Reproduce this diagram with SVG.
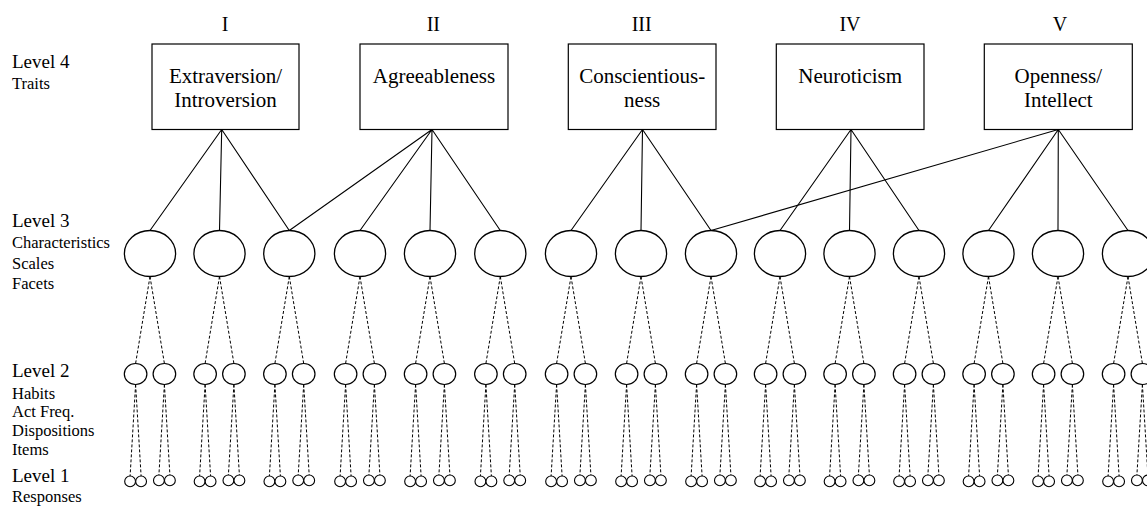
<svg xmlns="http://www.w3.org/2000/svg" width="1147" height="510" viewBox="0 0 1147 510">
  <style>
    text { font-family: "Liberation Serif", "Times New Roman", serif; fill: #000; }
    .roman { font-size: 20px; text-anchor: middle; }
    .trait { font-size: 21px; text-anchor: middle; }
    .lvl { font-size: 19px; }
    .sub { font-size: 16.5px; }
    .box { fill: #fff; stroke: #000; stroke-width: 1.2; }
    .facet { fill: #fff; stroke: #000; stroke-width: 1.3; }
    .item { fill: #fff; stroke: #000; stroke-width: 1.2; }
    .resp { fill: #fff; stroke: #000; stroke-width: 1.1; }
    .solid { stroke: #000; stroke-width: 1.1; fill: none; }
    .dash { stroke: #000; stroke-width: 1; fill: none; stroke-dasharray: 3 2; }
  </style>
  <rect width="1147" height="510" fill="#fff"/>

  <!-- level legend -->
  <g id="legend">
    <text class="lvl" x="12" y="67.5">Level 4</text>
    <text class="sub" x="12" y="88.5">Traits</text>
    <text class="lvl" x="12" y="226.5">Level 3</text>
    <text class="sub" x="12" y="248.3">Characteristics</text>
    <text class="sub" x="12" y="268.5">Scales</text>
    <text class="sub" x="12" y="288.5">Facets</text>
    <text class="lvl" x="12" y="377">Level 2</text>
    <text class="sub" x="12" y="398.5">Habits</text>
    <text class="sub" x="12" y="417">Act Freq.</text>
    <text class="sub" x="12" y="436">Dispositions</text>
    <text class="sub" x="12" y="455">Items</text>
    <text class="lvl" x="12" y="481.5">Level 1</text>
    <text class="sub" x="12" y="501.5">Responses</text>
  </g>

  <!-- connectors: traits to facets (solid), facets to items and items to responses (dashed) -->
  <g id="connectors">
    <g id="trait-links" class="solid">
      <path d="M221.7 129.5L150 230.5M221.7 129.5L219.5 230.5M221.7 129.5L289.3 230.5"/>
      <path d="M432 129.5L289.3 230.5M432 129.5L360 230.5M432 129.5L430 230.5M432 129.5L500.3 230.5"/>
      <path d="M642.5 129.5L571 230.5M642.5 129.5L641 230.5M642.5 129.5L711 230.5"/>
      <path d="M851 129.5L780 230.5M851 129.5L849.5 230.5M851 129.5L919 230.5"/>
      <path d="M1058.3 129.5L711 230.5M1058.3 129.5L988.5 230.5M1058.3 129.5L1058 230.5M1058.3 129.5L1128 230.5"/>
    </g>
    <g id="item-links" class="dash">
      <path d="M150 276.5L135.6 363.5M150 276.5L164.4 363.5M135.6 384.5L130.1 476M135.6 384.5L141.1 476M164.4 384.5L158.9 475M164.4 384.5L169.9 475"/>
      <path d="M219.5 276.5L205.1 363.5M219.5 276.5L233.9 363.5M205.1 384.5L199.6 476M205.1 384.5L210.6 476M233.9 384.5L228.4 475M233.9 384.5L239.4 475"/>
      <path d="M289.3 276.5L274.9 363.5M289.3 276.5L303.7 363.5M274.9 384.5L269.4 476M274.9 384.5L280.4 476M303.7 384.5L298.2 475M303.7 384.5L309.2 475"/>
      <path d="M360 276.5L345.6 363.5M360 276.5L374.4 363.5M345.6 384.5L340.1 476M345.6 384.5L351.1 476M374.4 384.5L368.9 475M374.4 384.5L379.9 475"/>
      <path d="M430 276.5L415.6 363.5M430 276.5L444.4 363.5M415.6 384.5L410.1 476M415.6 384.5L421.1 476M444.4 384.5L438.9 475M444.4 384.5L449.9 475"/>
      <path d="M500.3 276.5L485.9 363.5M500.3 276.5L514.7 363.5M485.9 384.5L480.4 476M485.9 384.5L491.4 476M514.7 384.5L509.2 475M514.7 384.5L520.2 475"/>
      <path d="M571 276.5L556.6 363.5M571 276.5L585.4 363.5M556.6 384.5L551.1 476M556.6 384.5L562.1 476M585.4 384.5L579.9 475M585.4 384.5L590.9 475"/>
      <path d="M641 276.5L626.6 363.5M641 276.5L655.4 363.5M626.6 384.5L621.1 476M626.6 384.5L632.1 476M655.4 384.5L649.9 475M655.4 384.5L660.9 475"/>
      <path d="M711 276.5L696.6 363.5M711 276.5L725.4 363.5M696.6 384.5L691.1 476M696.6 384.5L702.1 476M725.4 384.5L719.9 475M725.4 384.5L730.9 475"/>
      <path d="M780 276.5L765.6 363.5M780 276.5L794.4 363.5M765.6 384.5L760.1 476M765.6 384.5L771.1 476M794.4 384.5L788.9 475M794.4 384.5L799.9 475"/>
      <path d="M849.5 276.5L835.1 363.5M849.5 276.5L863.9 363.5M835.1 384.5L829.6 476M835.1 384.5L840.6 476M863.9 384.5L858.4 475M863.9 384.5L869.4 475"/>
      <path d="M919 276.5L904.6 363.5M919 276.5L933.4 363.5M904.6 384.5L899.1 476M904.6 384.5L910.1 476M933.4 384.5L927.9 475M933.4 384.5L938.9 475"/>
      <path d="M988.5 276.5L974.1 363.5M988.5 276.5L1002.9 363.5M974.1 384.5L968.6 476M974.1 384.5L979.6 476M1002.9 384.5L997.4 475M1002.9 384.5L1008.4 475"/>
      <path d="M1058 276.5L1043.6 363.5M1058 276.5L1072.4 363.5M1043.6 384.5L1038.1 476M1043.6 384.5L1049.1 476M1072.4 384.5L1066.9 475M1072.4 384.5L1077.9 475"/>
      <path d="M1128 276.5L1113.6 363.5M1128 276.5L1142.4 363.5M1113.6 384.5L1108.1 476M1113.6 384.5L1119.1 476M1142.4 384.5L1136.9 475M1142.4 384.5L1147.9 475"/>
    </g>
  </g>

  <!-- level 4: the five traits -->
  <g id="trait-I">
    <text class="roman" x="225" y="31">I</text>
    <rect class="box" x="152" y="44" width="147" height="85.5"/>
    <text class="trait" x="225.5" y="82.5">Extraversion/</text>
    <text class="trait" x="225.5" y="107">Introversion</text>
  </g>
  <g id="trait-II">
    <text class="roman" x="433.3" y="31">II</text>
    <rect class="box" x="360" y="44" width="148" height="85.5"/>
    <text class="trait" x="434" y="82.5">Agreeableness</text>
  </g>
  <g id="trait-III">
    <text class="roman" x="641.7" y="31">III</text>
    <rect class="box" x="568.3" y="44" width="147.7" height="85.5"/>
    <text class="trait" x="642.2" y="82.5">Conscientious-</text>
    <text class="trait" x="642.2" y="107">ness</text>
  </g>
  <g id="trait-IV">
    <text class="roman" x="850" y="31">IV</text>
    <rect class="box" x="776.3" y="44" width="147.7" height="85.5"/>
    <text class="trait" x="850.2" y="82.5">Neuroticism</text>
  </g>
  <g id="trait-V">
    <text class="roman" x="1060" y="31">V</text>
    <rect class="box" x="984.3" y="44" width="148" height="85.5"/>
    <text class="trait" x="1058.3" y="82.5">Openness/</text>
    <text class="trait" x="1058.3" y="107">Intellect</text>
  </g>

  <!-- level 3: facets -->
  <g id="facet-1"><ellipse class="facet" cx="150" cy="253.5" rx="25.6" ry="23"/></g>
  <g id="facet-2"><ellipse class="facet" cx="219.5" cy="253.5" rx="25.6" ry="23"/></g>
  <g id="facet-3"><ellipse class="facet" cx="289.3" cy="253.5" rx="25.6" ry="23"/></g>
  <g id="facet-4"><ellipse class="facet" cx="360" cy="253.5" rx="25.6" ry="23"/></g>
  <g id="facet-5"><ellipse class="facet" cx="430" cy="253.5" rx="25.6" ry="23"/></g>
  <g id="facet-6"><ellipse class="facet" cx="500.3" cy="253.5" rx="25.6" ry="23"/></g>
  <g id="facet-7"><ellipse class="facet" cx="571" cy="253.5" rx="25.6" ry="23"/></g>
  <g id="facet-8"><ellipse class="facet" cx="641" cy="253.5" rx="25.6" ry="23"/></g>
  <g id="facet-9"><ellipse class="facet" cx="711" cy="253.5" rx="25.6" ry="23"/></g>
  <g id="facet-10"><ellipse class="facet" cx="780" cy="253.5" rx="25.6" ry="23"/></g>
  <g id="facet-11"><ellipse class="facet" cx="849.5" cy="253.5" rx="25.6" ry="23"/></g>
  <g id="facet-12"><ellipse class="facet" cx="919" cy="253.5" rx="25.6" ry="23"/></g>
  <g id="facet-13"><ellipse class="facet" cx="988.5" cy="253.5" rx="25.6" ry="23"/></g>
  <g id="facet-14"><ellipse class="facet" cx="1058" cy="253.5" rx="25.6" ry="23"/></g>
  <g id="facet-15"><ellipse class="facet" cx="1128" cy="253.5" rx="25.6" ry="23"/></g>

  <!-- level 2: items, two per facet -->
  <g id="items">
    <g id="item-1a"><ellipse class="item" cx="135.6" cy="374" rx="11.3" ry="10.5"/></g>
    <g id="item-1b"><ellipse class="item" cx="164.4" cy="374" rx="11.3" ry="10.5"/></g>
    <g id="item-2a"><ellipse class="item" cx="205.1" cy="374" rx="11.3" ry="10.5"/></g>
    <g id="item-2b"><ellipse class="item" cx="233.9" cy="374" rx="11.3" ry="10.5"/></g>
    <g id="item-3a"><ellipse class="item" cx="274.9" cy="374" rx="11.3" ry="10.5"/></g>
    <g id="item-3b"><ellipse class="item" cx="303.7" cy="374" rx="11.3" ry="10.5"/></g>
    <g id="item-4a"><ellipse class="item" cx="345.6" cy="374" rx="11.3" ry="10.5"/></g>
    <g id="item-4b"><ellipse class="item" cx="374.4" cy="374" rx="11.3" ry="10.5"/></g>
    <g id="item-5a"><ellipse class="item" cx="415.6" cy="374" rx="11.3" ry="10.5"/></g>
    <g id="item-5b"><ellipse class="item" cx="444.4" cy="374" rx="11.3" ry="10.5"/></g>
    <g id="item-6a"><ellipse class="item" cx="485.9" cy="374" rx="11.3" ry="10.5"/></g>
    <g id="item-6b"><ellipse class="item" cx="514.7" cy="374" rx="11.3" ry="10.5"/></g>
    <g id="item-7a"><ellipse class="item" cx="556.6" cy="374" rx="11.3" ry="10.5"/></g>
    <g id="item-7b"><ellipse class="item" cx="585.4" cy="374" rx="11.3" ry="10.5"/></g>
    <g id="item-8a"><ellipse class="item" cx="626.6" cy="374" rx="11.3" ry="10.5"/></g>
    <g id="item-8b"><ellipse class="item" cx="655.4" cy="374" rx="11.3" ry="10.5"/></g>
    <g id="item-9a"><ellipse class="item" cx="696.6" cy="374" rx="11.3" ry="10.5"/></g>
    <g id="item-9b"><ellipse class="item" cx="725.4" cy="374" rx="11.3" ry="10.5"/></g>
    <g id="item-10a"><ellipse class="item" cx="765.6" cy="374" rx="11.3" ry="10.5"/></g>
    <g id="item-10b"><ellipse class="item" cx="794.4" cy="374" rx="11.3" ry="10.5"/></g>
    <g id="item-11a"><ellipse class="item" cx="835.1" cy="374" rx="11.3" ry="10.5"/></g>
    <g id="item-11b"><ellipse class="item" cx="863.9" cy="374" rx="11.3" ry="10.5"/></g>
    <g id="item-12a"><ellipse class="item" cx="904.6" cy="374" rx="11.3" ry="10.5"/></g>
    <g id="item-12b"><ellipse class="item" cx="933.4" cy="374" rx="11.3" ry="10.5"/></g>
    <g id="item-13a"><ellipse class="item" cx="974.1" cy="374" rx="11.3" ry="10.5"/></g>
    <g id="item-13b"><ellipse class="item" cx="1002.9" cy="374" rx="11.3" ry="10.5"/></g>
    <g id="item-14a"><ellipse class="item" cx="1043.6" cy="374" rx="11.3" ry="10.5"/></g>
    <g id="item-14b"><ellipse class="item" cx="1072.4" cy="374" rx="11.3" ry="10.5"/></g>
    <g id="item-15a"><ellipse class="item" cx="1113.6" cy="374" rx="11.3" ry="10.5"/></g>
    <g id="item-15b"><ellipse class="item" cx="1142.4" cy="374" rx="11.3" ry="10.5"/></g>
  </g>

  <!-- level 1: responses, two per item -->
  <g id="responses">
    <g id="resp-1a"><circle class="resp" cx="130.1" cy="481.4" r="5.4"/><circle class="resp" cx="141.1" cy="481.4" r="5.4"/></g>
    <g id="resp-1b"><circle class="resp" cx="158.9" cy="480.4" r="5.4"/><circle class="resp" cx="169.9" cy="480.4" r="5.4"/></g>
    <g id="resp-2a"><circle class="resp" cx="199.6" cy="481.4" r="5.4"/><circle class="resp" cx="210.6" cy="481.4" r="5.4"/></g>
    <g id="resp-2b"><circle class="resp" cx="228.4" cy="480.4" r="5.4"/><circle class="resp" cx="239.4" cy="480.4" r="5.4"/></g>
    <g id="resp-3a"><circle class="resp" cx="269.4" cy="481.4" r="5.4"/><circle class="resp" cx="280.4" cy="481.4" r="5.4"/></g>
    <g id="resp-3b"><circle class="resp" cx="298.2" cy="480.4" r="5.4"/><circle class="resp" cx="309.2" cy="480.4" r="5.4"/></g>
    <g id="resp-4a"><circle class="resp" cx="340.1" cy="481.4" r="5.4"/><circle class="resp" cx="351.1" cy="481.4" r="5.4"/></g>
    <g id="resp-4b"><circle class="resp" cx="368.9" cy="480.4" r="5.4"/><circle class="resp" cx="379.9" cy="480.4" r="5.4"/></g>
    <g id="resp-5a"><circle class="resp" cx="410.1" cy="481.4" r="5.4"/><circle class="resp" cx="421.1" cy="481.4" r="5.4"/></g>
    <g id="resp-5b"><circle class="resp" cx="438.9" cy="480.4" r="5.4"/><circle class="resp" cx="449.9" cy="480.4" r="5.4"/></g>
    <g id="resp-6a"><circle class="resp" cx="480.4" cy="481.4" r="5.4"/><circle class="resp" cx="491.4" cy="481.4" r="5.4"/></g>
    <g id="resp-6b"><circle class="resp" cx="509.2" cy="480.4" r="5.4"/><circle class="resp" cx="520.2" cy="480.4" r="5.4"/></g>
    <g id="resp-7a"><circle class="resp" cx="551.1" cy="481.4" r="5.4"/><circle class="resp" cx="562.1" cy="481.4" r="5.4"/></g>
    <g id="resp-7b"><circle class="resp" cx="579.9" cy="480.4" r="5.4"/><circle class="resp" cx="590.9" cy="480.4" r="5.4"/></g>
    <g id="resp-8a"><circle class="resp" cx="621.1" cy="481.4" r="5.4"/><circle class="resp" cx="632.1" cy="481.4" r="5.4"/></g>
    <g id="resp-8b"><circle class="resp" cx="649.9" cy="480.4" r="5.4"/><circle class="resp" cx="660.9" cy="480.4" r="5.4"/></g>
    <g id="resp-9a"><circle class="resp" cx="691.1" cy="481.4" r="5.4"/><circle class="resp" cx="702.1" cy="481.4" r="5.4"/></g>
    <g id="resp-9b"><circle class="resp" cx="719.9" cy="480.4" r="5.4"/><circle class="resp" cx="730.9" cy="480.4" r="5.4"/></g>
    <g id="resp-10a"><circle class="resp" cx="760.1" cy="481.4" r="5.4"/><circle class="resp" cx="771.1" cy="481.4" r="5.4"/></g>
    <g id="resp-10b"><circle class="resp" cx="788.9" cy="480.4" r="5.4"/><circle class="resp" cx="799.9" cy="480.4" r="5.4"/></g>
    <g id="resp-11a"><circle class="resp" cx="829.6" cy="481.4" r="5.4"/><circle class="resp" cx="840.6" cy="481.4" r="5.4"/></g>
    <g id="resp-11b"><circle class="resp" cx="858.4" cy="480.4" r="5.4"/><circle class="resp" cx="869.4" cy="480.4" r="5.4"/></g>
    <g id="resp-12a"><circle class="resp" cx="899.1" cy="481.4" r="5.4"/><circle class="resp" cx="910.1" cy="481.4" r="5.4"/></g>
    <g id="resp-12b"><circle class="resp" cx="927.9" cy="480.4" r="5.4"/><circle class="resp" cx="938.9" cy="480.4" r="5.4"/></g>
    <g id="resp-13a"><circle class="resp" cx="968.6" cy="481.4" r="5.4"/><circle class="resp" cx="979.6" cy="481.4" r="5.4"/></g>
    <g id="resp-13b"><circle class="resp" cx="997.4" cy="480.4" r="5.4"/><circle class="resp" cx="1008.4" cy="480.4" r="5.4"/></g>
    <g id="resp-14a"><circle class="resp" cx="1038.1" cy="481.4" r="5.4"/><circle class="resp" cx="1049.1" cy="481.4" r="5.4"/></g>
    <g id="resp-14b"><circle class="resp" cx="1066.9" cy="480.4" r="5.4"/><circle class="resp" cx="1077.9" cy="480.4" r="5.4"/></g>
    <g id="resp-15a"><circle class="resp" cx="1108.1" cy="481.4" r="5.4"/><circle class="resp" cx="1119.1" cy="481.4" r="5.4"/></g>
    <g id="resp-15b"><circle class="resp" cx="1136.9" cy="480.4" r="5.4"/><circle class="resp" cx="1147.9" cy="480.4" r="5.4"/></g>
  </g>
</svg>
